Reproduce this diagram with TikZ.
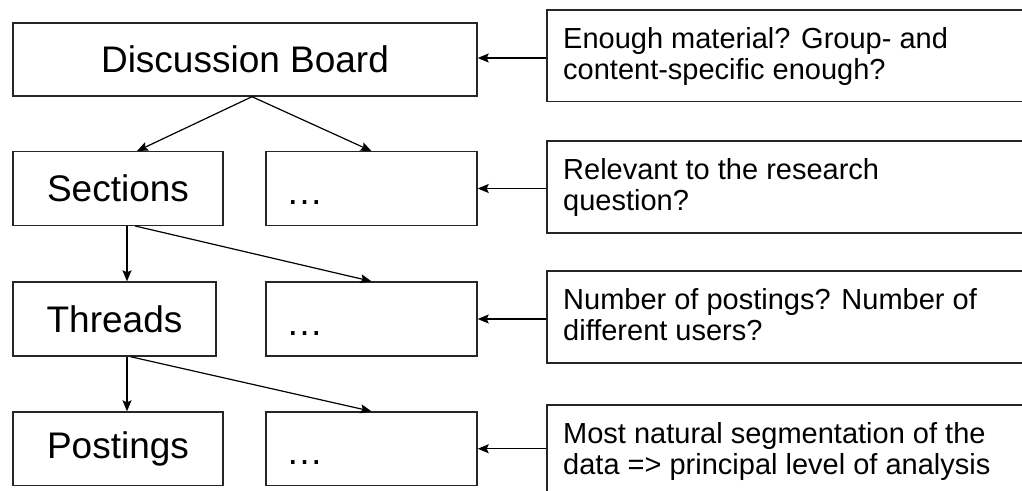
\documentclass[tikz,border=0pt]{standalone}
\usepackage{fontspec}
\setmainfont{Liberation Sans}
\usetikzlibrary{arrows.meta}
\begin{document}
\begin{tikzpicture}[x=1pt,y=-1pt,
  box/.style={draw=black!85,line width=1.4pt,rectangle,inner sep=0pt,
    font=\fontsize{37}{40}\selectfont},
  dotstext/.style={inner sep=0pt,anchor=base west,font=\fontsize{37}{40}\selectfont},
  qtext/.style={inner sep=0pt,anchor=north west,align=left,
    font=\fontsize{29}{31}\selectfont},
  arr/.style={draw=black,line width=1.2pt,-{Stealth[length=11pt,width=9pt,inset=2pt]}}]
\useasboundingbox (0,0) rectangle (1022,490);
\clip (0,0) rectangle (1022,490);
% left column
\node[box,minimum width=464pt,minimum height=73pt] (db) at (245,59.5) {Discussion Board};
\node[box,minimum width=210pt,minimum height=73.5pt] (sec) at (118,188.5) {Sections};
\node[box,minimum width=211pt,minimum height=73.5pt] (d1) at (371.5,188.5) {};
\node[box,minimum width=203pt,minimum height=74pt] (thr) at (114.5,319) {Threads};
\node[box,minimum width=211pt,minimum height=74pt] (d2) at (371.5,319) {};
\node[box,minimum width=210pt,minimum height=73.5pt] (pos) at (118,448.75) {Postings};
\node[box,minimum width=211pt,minimum height=73.5pt] (d3) at (371.5,448.75) {};
\node[dotstext] (t1) at (286,204) {…};
\node[dotstext] (t2) at (286,335) {…};
\node[dotstext] (t3) at (286,464) {…};
% right column
\node[box,minimum width=490pt,minimum height=91.5pt] (r1) at (792,55.75) {};
\node[box,minimum width=490pt,minimum height=92pt] (r2) at (792,187) {};
\node[box,minimum width=490pt,minimum height=92pt] (r3) at (792,317) {};
\node[box,minimum width=490pt,minimum height=92pt] (r4) at (792,451) {};
\node[qtext] (q1) at (563,27) {Enough material? Group- and\\content-specific enough?};
\node[qtext] (q2) at (563,158) {Relevant to the research\\question?};
\node[qtext] (q3) at (563,288) {Number of postings? Number of\\different users?};
\node[qtext] (q4) at (563,422) {Most natural segmentation of the\\data => principal level of analysis};
% connectors
\draw[arr] ([xshift=7pt]db.south) -- ([xshift=19pt]sec.north);
\draw[arr] ([xshift=7pt]db.south) -- (d1.north);
\draw[arr] ([xshift=9pt]sec.south) -- ([xshift=9pt]sec.south |- thr.north);
\draw[arr] ([xshift=17pt]sec.south) -- (d2.north);
\draw[arr] ([xshift=12.5pt]thr.south) -- ([xshift=12.5pt]thr.south |- pos.north);
\draw[arr] ([xshift=16pt]thr.south) -- (d3.north);
\draw[arr] (r1.west |- 0,58) -- (db.east |- 0,58);
\draw[arr] (r2.west |- d1.east) -- (d1.east);
\draw[arr] (r3.west |- d2.east) -- (d2.east);
\draw[arr] (r4.west |- d3.east) -- (d3.east);
\end{tikzpicture}
\end{document}
